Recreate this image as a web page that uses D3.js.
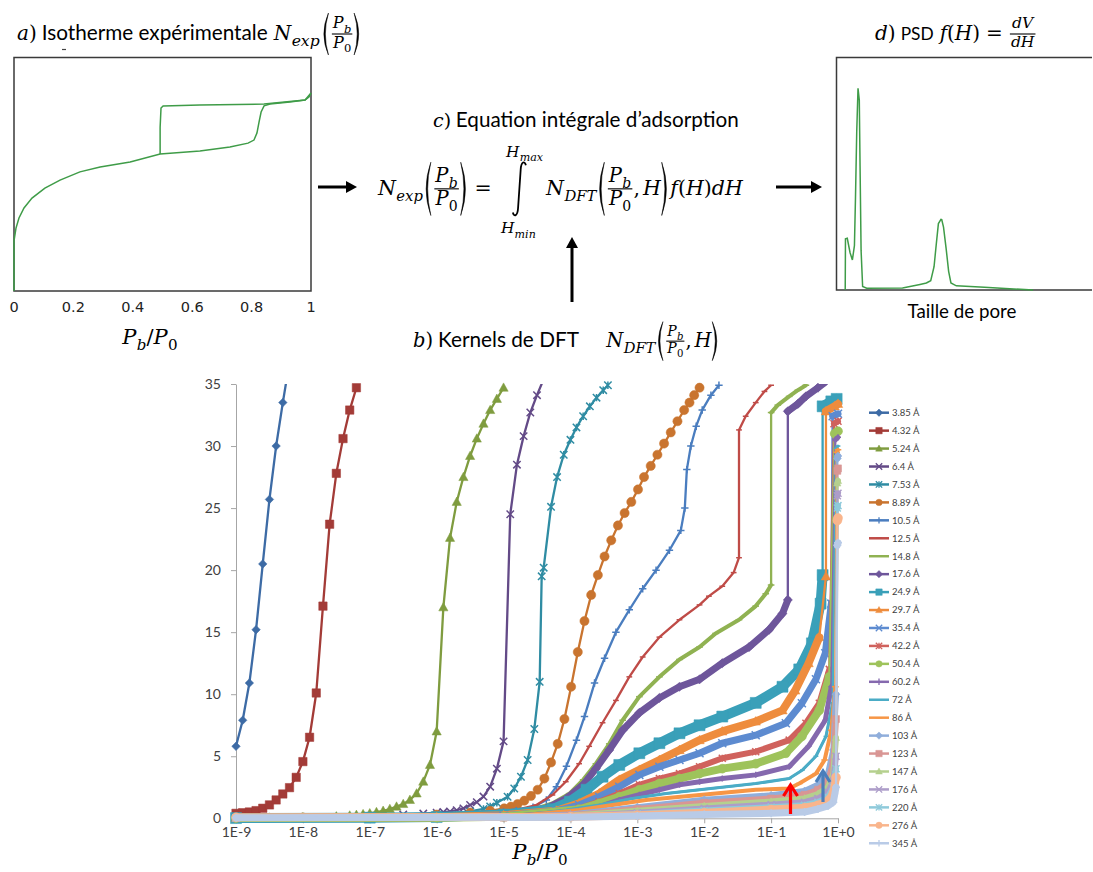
<!DOCTYPE html>
<html><head><meta charset="utf-8">
<script src="https://cdn.jsdelivr.net/npm/d3@7"></script>
<style>html,body{margin:0;padding:0;background:#fff;}svg{display:block;}</style>
</head><body>
<svg id="c" width="1093" height="872"></svg>
<script>
// ---------------- DATA ----------------
const poreSizes = ['3.85 Å','4.32 Å','5.24 Å','6.4 Å','7.53 Å','8.89 Å','10.5 Å','12.5 Å','14.8 Å','17.6 Å','24.9 Å','29.7 Å','35.4 Å','42.2 Å','50.4 Å','60.2 Å','72 Å','86 Å','103 Å','123 Å','147 Å','176 Å','220 Å','276 Å','345 Å'];
const xTickLabels = ['1E-9','1E-8','1E-7','1E-6','1E-5','1E-4','1E-3','1E-2','1E-1','1E+0'];
const yTicks = [0,5,10,15,20,25,30,35];
// kernels: [log10(Pb/P0), N]
const k3_85 = [[-9,5.8],[-8.9,7.9],[-8.8,10.9],[-8.7,15.2],[-8.6,20.5],[-8.5,25.7],[-8.4,30.0],[-8.3,33.5],[-8.2,36.8]];
const k4_32 = [[-9,0.4],[-8.9,0.45],[-8.8,0.51],[-8.7,0.62],[-8.6,0.81],[-8.5,1.08],[-8.4,1.48],[-8.3,1.96],[-8.2,2.47],[-8.1,3.3],[-8.0,4.57],[-7.9,6.53],[-7.8,10.1],[-7.7,17.1],[-7.6,23.7],[-7.5,27.8],[-7.4,30.6],[-7.3,32.9],[-7.2,34.7]];
const k5_24 = [[-9,0.03],[-8.5,0.05],[-8,0.08],[-7.5,0.15],[-7.3,0.22],[-7.2,0.27],[-7.1,0.33],[-7.0,0.4],[-6.9,0.5],[-6.8,0.6],[-6.7,0.75],[-6.6,0.94],[-6.5,1.15],[-6.4,1.48],[-6.3,2.0],[-6.2,2.95],[-6.1,4.3],[-6.0,7.0],[-5.9,17.0],[-5.8,22.6],[-5.7,25.5],[-5.6,27.5],[-5.5,29.2],[-5.4,30.6],[-5.3,31.8],[-5.2,32.9],[-5.1,33.8],[-5.0,34.7]];
const k6_4 = [[-9,0.03],[-8,0.06],[-7,0.15],[-6.5,0.3],[-6.2,0.38],[-6.0,0.45],[-5.9,0.5],[-5.8,0.55],[-5.7,0.65],[-5.6,0.8],[-5.5,1.07],[-5.4,1.3],[-5.3,1.75],[-5.2,2.55],[-5.1,4.0],[-5.0,6.2],[-4.9,24.5],[-4.8,28.5],[-4.7,30.8],[-4.6,32.7],[-4.5,34.1],[-4.4,35.4]];
const k7_53 = [[-9,0.03],[-8,0.05],[-7,0.12],[-6,0.3],[-5.5,0.55],[-5.3,0.75],[-5.2,0.95],[-5.1,1.25],[-4.94,1.74],[-4.84,2.4],[-4.74,3.35],[-4.64,4.7],[-4.54,7.2],[-4.46,11.0],[-4.43,19.5],[-4.40,20.2],[-4.29,25.1],[-4.20,27.5],[-4.10,29.3],[-4.0,30.5],[-3.91,31.5],[-3.81,32.4],[-3.71,33.2],[-3.61,33.9],[-3.51,34.5],[-3.44,34.9]];
const k8_89 = [[-9,0.03],[-8,0.06],[-7,0.12],[-6,0.3],[-5.5,0.45],[-5.2,0.6],[-4.99,0.8],[-4.89,0.94],[-4.79,1.15],[-4.69,1.42],[-4.59,1.8],[-4.49,2.3],[-4.39,3.2],[-4.29,4.5],[-4.19,6.0],[-4.09,8.0],[-3.99,10.6],[-3.89,13.4],[-3.79,15.9],[-3.69,18.0],[-3.59,19.6],[-3.49,21.1],[-3.39,22.4],[-3.29,23.6],[-3.19,24.6],[-3.09,25.5],[-2.99,26.5],[-2.90,27.5],[-2.80,28.4],[-2.70,29.3],[-2.60,30.2],[-2.50,31.1],[-2.40,32.0],[-2.30,32.9],[-2.22,33.5],[-2.15,34.1],[-2.07,34.7]];
const k10_5 = [[-9,0.02],[-7,0.08],[-6,0.18],[-5.5,0.3],[-5,0.5],[-4.81,0.61],[-4.56,0.89],[-4.36,1.48],[-4.21,2.55],[-4.06,4.2],[-3.91,6.3],[-3.79,8.2],[-3.64,10.9],[-3.49,12.9],[-3.32,15.0],[-3.12,16.8],[-2.92,18.5],[-2.72,20.0],[-2.52,21.6],[-2.35,23.2],[-2.29,25.0],[-2.26,28.1],[-2.20,30.0],[-2.12,31.6],[-2.03,32.9],[-1.90,34.1],[-1.78,34.9]];
const k12_5 = [[-9,0.02],[-7,0.06],[-6,0.15],[-5.5,0.25],[-5,0.45],[-4.86,0.61],[-4.51,1.07],[-4.27,1.88],[-4.07,2.95],[-3.87,4.4],[-3.72,5.8],[-3.52,7.7],[-3.32,9.5],[-3.12,11.4],[-2.92,13.0],[-2.67,14.6],[-2.37,16.0],[-2.07,17.2],[-1.93,17.9],[-1.73,18.7],[-1.56,19.8],[-1.48,21.0],[-1.48,31.3],[-1.38,32.4],[-1.23,33.5],[-1.10,34.4],[-1.0,34.9]];
const k14_8 = [[-9,0.02],[-7,0.05],[-6,0.1],[-5,0.3],[-4.61,0.61],[-4.27,1.2],[-4.01,2.0],[-3.81,3.1],[-3.62,4.4],[-3.42,6.0],[-3.22,7.9],[-2.97,9.8],[-2.67,11.4],[-2.37,12.8],[-2.07,13.8],[-1.83,14.9],[-1.48,16.0],[-1.23,17.1],[-1.08,18.1],[-1.0,18.8],[-1.0,32.7],[-0.9,33.3],[-0.73,34.0],[-0.6,34.5],[-0.48,34.9]];
const k17_6 = [[-9,0.02],[-7,0.05],[-6,0.12],[-5,0.4],[-4.36,0.8],[-4.06,1.6],[-3.81,2.7],[-3.62,4.0],[-3.42,5.5],[-3.22,7.1],[-2.97,8.5],[-2.67,9.7],[-2.37,10.6],[-2.07,11.2],[-1.73,12.5],[-1.33,13.8],[-1.03,15.2],[-0.83,16.5],[-0.75,17.6],[-0.75,32.8],[-0.6,33.4],[-0.48,34.0],[-0.3,34.7],[-0.2,35.1]];
const k24_9 = [[-9,0.02],[-7,0.05],[-6,0.1],[-5,0.3],[-4.27,0.73],[-4.01,1.34],[-3.76,2.3],[-3.52,3.35],[-3.27,4.3],[-2.97,5.24],[-2.67,6.05],[-2.37,6.85],[-2.07,7.5],[-1.73,8.2],[-1.23,9.3],[-0.83,10.6],[-0.58,12.0],[-0.39,14.1],[-0.26,17.3],[-0.23,19.6],[-0.23,33.2],[-0.1,33.6],[-0.02,33.8]];
const k29_7 = [[-9,0.02],[-6,0.08],[-5,0.25],[-4.21,0.61],[-3.87,1.2],[-3.57,2.0],[-3.27,3.1],[-2.97,3.9],[-2.67,4.7],[-2.37,5.5],[-2.07,6.3],[-1.73,7.0],[-1.23,7.8],[-0.83,8.7],[-0.64,10.3],[-0.44,12.5],[-0.28,14.6],[-0.18,19.5],[-0.18,32.8],[-0.05,33.2],[0,33.4]];
const k35_4 = [[-9,0.02],[-6,0.07],[-5,0.2],[-4.21,0.6],[-3.87,1.07],[-3.57,1.74],[-3.27,2.55],[-2.97,3.5],[-2.67,4.16],[-2.37,4.7],[-2.07,5.24],[-1.73,6.05],[-1.23,6.7],[-0.78,7.66],[-0.54,9.27],[-0.33,11.2],[-0.19,13.3],[-0.10,17.3],[-0.08,32.4],[0,32.6]];
const k42_2 = [[-9,0.02],[-6,0.06],[-5,0.15],[-3.87,0.8],[-3.57,1.34],[-3.27,2.0],[-2.97,2.7],[-2.67,3.2],[-2.37,3.6],[-2.07,4.16],[-1.73,4.84],[-1.23,5.37],[-0.73,6.3],[-0.48,7.66],[-0.28,9.27],[-0.13,12.0],[-0.06,31.8],[0,32.0]];
const k50_4 = [[-9,0.02],[-6,0.05],[-5,0.12],[-3.87,0.73],[-3.57,1.2],[-3.27,1.74],[-2.97,2.3],[-2.67,2.8],[-2.37,3.2],[-2.07,3.6],[-1.73,4.0],[-1.23,4.4],[-0.78,5.24],[-0.54,6.6],[-0.28,8.7],[-0.13,11.4],[-0.05,31.0],[0,31.2]];
const k60_2 = [[-9,0.02],[-6,0.05],[-5,0.1],[-3.87,0.61],[-3.57,0.94],[-3.27,1.48],[-2.97,1.9],[-2.67,2.3],[-2.37,2.7],[-2.07,2.95],[-1.73,3.2],[-1.23,3.5],[-0.73,4.16],[-0.44,5.8],[-0.19,7.9],[-0.10,10.6],[-0.04,30.5],[0,30.7]];
const k72 = [[-9,0.02],[-6,0.04],[-5,0.08],[-4.06,0.67],[-3.57,1.07],[-3.07,1.6],[-2.57,2.0],[-2.07,2.3],[-1.23,2.8],[-0.73,3.2],[-0.53,3.9],[-0.33,5.0],[-0.18,6.6],[-0.08,9.3],[-0.03,29.8],[0,30.0]];
const k86 = [[-9,0.02],[-6,0.03],[-5,0.08],[-3.87,0.67],[-3.37,1.07],[-2.87,1.48],[-2.07,1.88],[-1.23,2.3],[-0.73,2.4],[-0.58,2.8],[-0.33,3.6],[-0.2,4.7],[-0.1,7.1],[-0.04,10.6],[-0.02,29.5],[0,29.7]];
const k103 = [[-9,0.02],[-5,0.06],[-4,0.3],[-3,0.9],[-2,1.5],[-1,1.85],[-0.5,2.2],[-0.3,2.7],[-0.15,3.6],[-0.07,5.5],[-0.03,10],[-0.01,29],[0,29.2]];
const k123 = [[-9,0.02],[-5,0.05],[-4,0.25],[-3,0.75],[-2,1.25],[-1,1.6],[-0.5,1.9],[-0.3,2.3],[-0.15,3.0],[-0.07,4.5],[-0.03,8],[-0.01,28],[0,28.2]];
const k147 = [[-9,0.02],[-5,0.04],[-4,0.2],[-3,0.6],[-2,1.0],[-1,1.35],[-0.5,1.6],[-0.3,1.95],[-0.15,2.5],[-0.07,3.6],[-0.03,6.5],[-0.01,27],[0,27.2]];
const k176 = [[-9,0.02],[-4,0.15],[-3,0.45],[-2,0.8],[-1,1.1],[-0.5,1.3],[-0.3,1.6],[-0.15,2.1],[-0.07,3.0],[-0.03,5],[-0.01,26],[0,26.2]];
const k220 = [[-9,0.02],[-4,0.12],[-3,0.35],[-2,0.62],[-1,0.9],[-0.5,1.05],[-0.3,1.3],[-0.15,1.7],[-0.07,2.5],[-0.03,4],[-0.01,25],[0,25.2]];
const k276 = [[-9,0.08],[-4,0.12],[-3,0.25],[-2,0.45],[-1,0.7],[-0.5,0.85],[-0.3,1.05],[-0.15,1.4],[-0.07,2.0],[-0.03,3.3],[-0.01,24],[0,24.2]];
const k345 = [[-9,0.05],[-4,0.08],[-3,0.18],[-2,0.3],[-1,0.4],[-0.5,0.5],[-0.3,0.75],[-0.15,1.0],[-0.07,1.3],[-0.03,2.5],[-0.01,22],[0,22.2]];
const kernels = [k3_85,k4_32,k5_24,k6_4,k7_53,k8_89,k10_5,k12_5,k14_8,k17_6,k24_9,k29_7,k35_4,k42_2,k50_4,k60_2,k72,k86,k103,k123,k147,k176,k220,k276,k345];

// panel a: experimental isotherm (relative units)
const isoAdsP = [0,0,0.0067,0.0168,0.0337,0.0606,0.104,0.155,0.222,0.290,0.391,0.492,0.626,0.727,0.788,0.808,0.818,0.825,0.832,0.842,0.862,0.929,0.980,0.993,1.0];
const isoAdsN = [0,0.214,0.269,0.312,0.355,0.397,0.440,0.474,0.509,0.530,0.551,0.585,0.598,0.615,0.632,0.645,0.675,0.722,0.765,0.791,0.799,0.808,0.816,0.829,0.846];
const isoDesP = [1.0,0.98,0.842,0.626,0.502,0.495,0.492,0.492];
const isoDesN = [0.846,0.816,0.799,0.795,0.791,0.782,0.70,0.585];
const isoTicks = ['0','0.2','0.4','0.6','0.8','1'];
// panel d: PSD (relative units)
const psdH = [0.036,0.037,0.044,0.055,0.064,0.072,0.076,0.081,0.086,0.091,0.094,0.098,0.104,0.12,0.26,0.328,0.353,0.37,0.383,0.392,0.4,0.41,0.413,0.42,0.43,0.44,0.449,0.47,0.58,0.77];
const psdF = [0,0.22,0.222,0.16,0.129,0.19,0.39,0.68,0.866,0.815,0.53,0.17,0.015,0.008,0.009,0.024,0.03,0.04,0.1,0.2,0.285,0.303,0.302,0.27,0.18,0.08,0.03,0.018,0.012,0];

// ---------------- STYLE ----------------
const colors = ['#3d6ba5','#a33b37','#7f9c3f','#634a87','#2f8ca3','#c9742f','#4a7dbf','#bf4b47','#90b252','#6e569b','#3aa0b9','#ee8c3d','#5d8bd0','#d0625d','#9ec35b','#8569ae','#4bacc6','#f79646','#90aedb','#d99694','#b5d08e','#ad9dc9','#8fcadb','#f9b58c','#b9cbe7'];
const markerCycle = ['diamond','square','triangle','x','star','circle','plus','dash','ldash'];
const bandW = [0,0,0,0,0,0,0,0,4,7,10,8,7,6,8,5,3,4,6,6,6,6,6,8,7];
const SERIF = "'DejaVu Serif', 'Liberation Serif', serif";
const SANS = "Lato, 'Open Sans', sans-serif";
const GREEN = '#3f9c48';

const svg = d3.select('#c');

// --------- math text helpers ---------
function run(g, x, y, s, sz, opt) {
  const t = g.append('text').attr('x', x).attr('y', y).text(s)
    .attr('font-family', opt.sans ? SANS : SERIF)
    .attr('font-style', (opt.it && !opt.sans) ? 'italic' : 'normal')
    .attr('font-size', sz).attr('fill', '#000');
  let w = t.node().getComputedTextLength();
  if (opt.w) { t.attr('font-size', sz * opt.w / w); w = opt.w; }
  return w;
}
function render(g, nodes, x, y, sz) { for (const n of nodes) x = n(g, x, y, sz); return x; }
const I = s => (g,x,y,sz) => x + run(g,x,y,s,sz,{it:true});
const U = s => (g,x,y,sz) => x + run(g,x,y,s,sz,{});
const S = (s, w) => (g,x,y,sz) => x + run(g,x,y,s,sz,{sans:true, w});
const Sp = w => (g,x,y,sz) => x + w*sz;
const Sub = (base, sub, k=0.72) => (g,x,y,sz) => render(g, sub, render(g, base, x, y, sz) + 0.02*sz, y + 0.3*sz, sz*k);
const Frac = (num, den, k) => (g,x,y,sz) => {
  const s = sz*k, gn = g.append('g'), gd = g.append('g');
  const wn = render(gn, num, 0, 0, s), wd = render(gd, den, 0, 0, s);
  const w = Math.max(wn, wd) + 0.2*sz, axis = y - 0.3*sz;
  gn.attr('transform', `translate(${x+(w-wn)/2},${axis - 0.1*sz - 0.25*s})`);
  gd.attr('transform', `translate(${x+(w-wd)/2},${axis + 0.08*sz + 0.75*s})`);
  g.append('line').attr('x1', x+0.05*sz).attr('x2', x+w-0.05*sz).attr('y1', axis).attr('y2', axis)
    .attr('stroke', '#000').attr('stroke-width', Math.max(1, sz*0.055));
  return x + w;
};
const Paren = (open, h) => (g,x,y,sz) => {
  const H = h*sz, c = y - 0.3*sz, w = 0.34*sz, t = c - H/2, b = c + H/2, th = 0.075*sz;
  const d = open
    ? `M${x+w},${t} Q${x-0.12*sz},${c} ${x+w},${b} Q${x-0.12*sz+th*2},${c} ${x+w},${t}Z`
    : `M${x+0.04*sz},${t} Q${x+w+0.16*sz},${c} ${x+0.04*sz},${b} Q${x+w+0.16*sz-th*2},${c} ${x+0.04*sz},${t}Z`;
  g.append('path').attr('d', d).attr('fill', '#000').attr('stroke', '#000').attr('stroke-width', 0.5);
  return x + w + 0.12*sz;
};
const Int = (top, bot) => (g,x,y,sz) => {
  const gt = g.append('g'), gb = g.append('g');
  const wt = render(gt, top, 0, 0, sz*0.75), wb = render(gb, bot, 0, 0, sz*0.75);
  const W = Math.max(wt, wb), cx = x + W/2, axis = y - 0.3*sz, h = 2.65*sz, t = axis - h/2, b = axis + h/2;
  gt.attr('transform', `translate(${cx + 0.25*sz - wt/2},${t - 0.25*sz})`);
  gb.attr('transform', `translate(${cx - 0.05*sz - wb/2},${b + 0.85*sz})`);
  g.append('path').attr('d', `M${cx+6.5},${t+3.5} C${cx+5.5},${t-1} ${cx+1.8},${t-0.5} ${cx+1.3},${t+8} L${cx-1.3},${b-8} C${cx-1.8},${b+0.5} ${cx-5.5},${b+1} ${cx-6.5},${b-3.5}`)
    .attr('fill', 'none').attr('stroke', '#000').attr('stroke-width', 1.8);
  return x + W + 0.1*sz;
};
function place(nodes, x, y, sz, anchor) {
  const g = svg.append('g');
  const w = render(g, nodes, 0, y, sz);
  const x0 = anchor === 'middle' ? x - w/2 : x;
  g.attr('transform', `translate(${x0},0)`);
  return g;
}
const Pb = [Sub([I('P')],[I('b')])];
const P0 = [Sub([I('P')],[U('0')])];

function arrow(x1, y1, x2, y2) {
  const ang = Math.atan2(y2-y1, x2-x1), L = 11, Wd = 6;
  const bx = x2 - L*Math.cos(ang), by = y2 - L*Math.sin(ang);
  svg.append('line').attr('x1', x1).attr('y1', y1).attr('x2', bx).attr('y2', by).attr('stroke', '#000').attr('stroke-width', 3);
  svg.append('path').attr('d', `M${x2},${y2}L${bx - Wd*Math.sin(ang)},${by + Wd*Math.cos(ang)}L${bx + Wd*Math.sin(ang)},${by - Wd*Math.cos(ang)}Z`).attr('fill', '#000');
}

// ---------------- PANEL A ----------------
const Xa = d3.scaleLinear().domain([0,1]).range([14,311]);
const Ya = d3.scaleLinear().domain([0,1]).range([291,57]);
svg.append('rect').attr('x',14).attr('y',57.5).attr('width',297).attr('height',233.5).attr('fill','none').attr('stroke','#3a3a3a').attr('stroke-width',1.5);
svg.append('line').attr('x1',62).attr('x2',66).attr('y1',49.5).attr('y2',49.5).attr('stroke','#444').attr('stroke-width',1.2);
const lineA = d3.line().x(d=>Xa(d[0])).y(d=>Ya(d[1]));
svg.append('path').attr('d', lineA(isoAdsP.map((p,i)=>[p,isoAdsN[i]]))).attr('fill','none').attr('stroke',GREEN).attr('stroke-width',1.5);
svg.append('path').attr('d', lineA(isoDesP.map((p,i)=>[p,isoDesN[i]]))).attr('fill','none').attr('stroke',GREEN).attr('stroke-width',1.5);
isoTicks.forEach((t,i)=>{
  svg.append('text').attr('x', Xa(i/5)).attr('y', 311.5).attr('text-anchor','middle').text(t)
    .attr('font-family',"'DejaVu Sans', sans-serif").attr('font-size',14.5).attr('fill','#222');
});
place([...Pb, U('/'), ...P0], 150, 344, 21, 'middle');
place([I('a'), U(')'), Sp(0.25), S('Isotherme expérimentale', 226), Sp(0.3), Sub([I('N')],[I('exp')],0.78), Sp(0.1), Paren(true,2.1), Frac(Pb, P0, 0.8), Paren(false,2.1)], 17, 40, 20);

// ---------------- PANEL D ----------------
const Xd = d3.scaleLinear().domain([0,1]).range([836,1092]);
const Yd = d3.scaleLinear().domain([0,1]).range([290,57]);
svg.append('path').attr('d', `M1092,57.5H836.5V290H1092`).attr('fill','none').attr('stroke','#3a3a3a').attr('stroke-width',1.5);
svg.append('path').attr('d', d3.line().x(d=>Xd(d[0])).y(d=>Yd(d[1]))(psdH.map((h,i)=>[h,psdF[i]]))).attr('fill','none').attr('stroke',GREEN).attr('stroke-width',1.5);
place([S('Taille de pore', 109)], 962, 318, 18, 'middle');
place([I('d'), U(')'), Sp(0.25), S('PSD', 33), Sp(0.3), I('f'), U('('), I('H'), U(')'), Sp(0.3), U('='), Sp(0.3), Frac([I('dV')],[I('dH')],0.78)], 875, 40, 20);

// ---------------- PANEL C ----------------
place([I('c'), U(')'), Sp(0.25), S('Equation intégrale d’adsorption', 283)], 433, 127, 19);
place([Sub([I('N')],[I('exp')]), Sp(0.05), Paren(true,2.6), Frac(Pb, P0, 0.95), Paren(false,2.6), Sp(0.25), U('='), Sp(0.45),
  Int([Sub([I('H')],[I('max')])],[Sub([I('H')],[I('min')])]), Sp(0.3),
  Sub([I('N')],[I('DFT')]), Sp(0.05), Paren(true,2.6), Frac(Pb, P0, 0.95), U(','), Sp(0.15), I('H'), Paren(false,2.6),
  I('f'), U('('), I('H'), U(')'), I('dH')], 378, 195, 20.5);
arrow(318, 187, 357, 187);
arrow(776, 187, 822, 187);
arrow(572, 302, 572, 237);

// ---------------- PANEL B ----------------
place([I('b'), U(')'), Sp(0.25), S('Kernels de DFT', 141), Sp(1.4), Sub([I('N')],[I('DFT')],0.75), Sp(0.05), Paren(true,2.0), Frac(Pb, P0, 0.72), U(','), Sp(0.15), I('H'), Paren(false,2.0)], 413, 347, 19.5);

const X = d3.scaleLog().domain([1e-9, 1]).range([236, 838]);
const Y = d3.scaleLinear().domain([0, 35]).range([818.3, 384]);
const xTickVals = xTickLabels.map((_,i)=>Math.pow(10, i-9));

const gy = svg.append('g').attr('transform','translate(236,0)')
  .call(d3.axisLeft(Y).tickValues(yTicks).tickSize(5).tickSizeOuter(0).tickPadding(10).tickFormat(d3.format('d')));
const gx = svg.append('g').attr('transform','translate(0,818.3)')
  .call(d3.axisBottom(X).tickValues(xTickVals).tickSize(5).tickSizeOuter(0).tickPadding(4).tickFormat((d,i)=>xTickLabels[i]));
[gx, gy].forEach(g=>{
  g.select('.domain').attr('stroke','#a6a6a6');
  g.selectAll('.tick line').attr('stroke','#a6a6a6');
  g.selectAll('text').attr('font-family',SANS).attr('font-size',14).attr('fill','#404040');
});

const defs = svg.append('defs');
defs.append('clipPath').attr('id','clipL').append('rect').attr('x',230).attr('y',384).attr('width',630).attr('height',442);

function markerPath(type, s) {
  switch (type) {
    case 'diamond': return `M0,${-s*1.15}L${s*1.15},0L0,${s*1.15}L${-s*1.15},0Z`;
    case 'square': return `M${-s},${-s}H${s}V${s}H${-s}Z`;
    case 'triangle': return `M0,${-s*1.1}L${s*1.05},${s*0.8}L${-s*1.05},${s*0.8}Z`;
    case 'circle': return `M${s},0A${s},${s} 0 1,1 ${-s},0A${s},${s} 0 1,1 ${s},0Z`;
    case 'x': return `M${-s},${-s}L${s},${s}M${-s},${s}L${s},${-s}`;
    case 'star': return `M${-s},${-s}L${s},${s}M${-s},${s}L${s},${-s}M0,${-s}L0,${s}`;
    case 'plus': return `M0,${-s}L0,${s}M${-s},0L${s},0`;
    case 'dash': return `M${-s*0.8},0H${s*0.8}`;
    case 'ldash': return `M${-s*1.1},0H${s*1.1}`;
  }
}
const isFilled = t => ['diamond','square','triangle','circle'].includes(t);
const baseSize = {diamond:3.7, square:4.2, triangle:4.4, x:3.7, star:3.7, circle:4.6, plus:3.7, dash:3.6, ldash:3.6};
const line = d3.line().x(d=>X(Math.pow(10,d[0]))).y(d=>Y(d[1]));

kernels.forEach((data, i) => {
  const col = colors[i], type = markerCycle[i % 9], bw = bandW[i];
  const sg = svg.append('g');
  const plot = sg.append('g').attr('clip-path','url(#clipL)');
  if (bw > 0) {
    // dense markers in the original form a thick band; break it at the steep jumps
    let runs = [[data[0]]];
    for (let j = 1; j < data.length; j++) {
      const dy = Math.abs(Y(data[j][1]) - Y(data[j-1][1]));
      if (dy > 60) runs.push([data[j]]); else runs[runs.length-1].push(data[j]);
    }
    runs.filter(r => r.length > 1).forEach(r => plot.append('path').attr('d', line(r)).attr('fill','none')
      .attr('stroke', col).attr('stroke-width', bw).attr('stroke-linejoin','round').attr('stroke-linecap','round'));
  }
  plot.append('path').attr('d', line(data)).attr('fill','none').attr('stroke', col).attr('stroke-width', 2.3).attr('stroke-linejoin','round');
  const s = bw > 0 ? Math.max(3, bw/2 + 0.5) : baseSize[type];
  data.filter(d => d[1] <= 35.05).forEach(d => {
    sg.append('path').attr('d', markerPath(type, s))
      .attr('transform', `translate(${X(Math.pow(10,d[0]))},${Y(d[1])})`)
      .attr('fill', isFilled(type) ? col : 'none').attr('stroke', col).attr('stroke-width', isFilled(type) ? 0.5 : 1.5);
  });
});

// arrows inside the plot
function chartArrow(x, y1, y2, col) {
  svg.append('line').attr('x1',x).attr('x2',x).attr('y1',y1).attr('y2',y2+2).attr('stroke',col).attr('stroke-width',3.2);
  svg.append('path').attr('d',`M${x-7},${y2+12}L${x},${y2+1}L${x+7},${y2+12}`).attr('fill','none').attr('stroke',col).attr('stroke-width',3.2).attr('stroke-linejoin','miter');
}
chartArrow(790.5, 814, 784, '#ff0000');
chartArrow(823, 802, 770, '#4a7ebb');

place([...Pb, U('/'), ...P0], 540, 859, 21, 'middle');

// legend
const lg = svg.append('g');
poreSizes.forEach((lab, i) => {
  const y = 412.7 + i*17.94, col = colors[i], type = markerCycle[i % 9];
  lg.append('line').attr('x1',869).attr('x2',889).attr('y1',y).attr('y2',y).attr('stroke',col).attr('stroke-width',2.5);
  lg.append('path').attr('d', markerPath(type, 3.2)).attr('transform',`translate(879,${y})`)
    .attr('fill', isFilled(type) ? col : 'none').attr('stroke', col).attr('stroke-width', isFilled(type) ? 0.5 : 1.3);
  lg.append('text').attr('x',892).attr('y',y+3.3).text(lab).attr('font-family',SANS).attr('font-size',9.5).attr('fill','#404040');
});
</script>
</body></html>
